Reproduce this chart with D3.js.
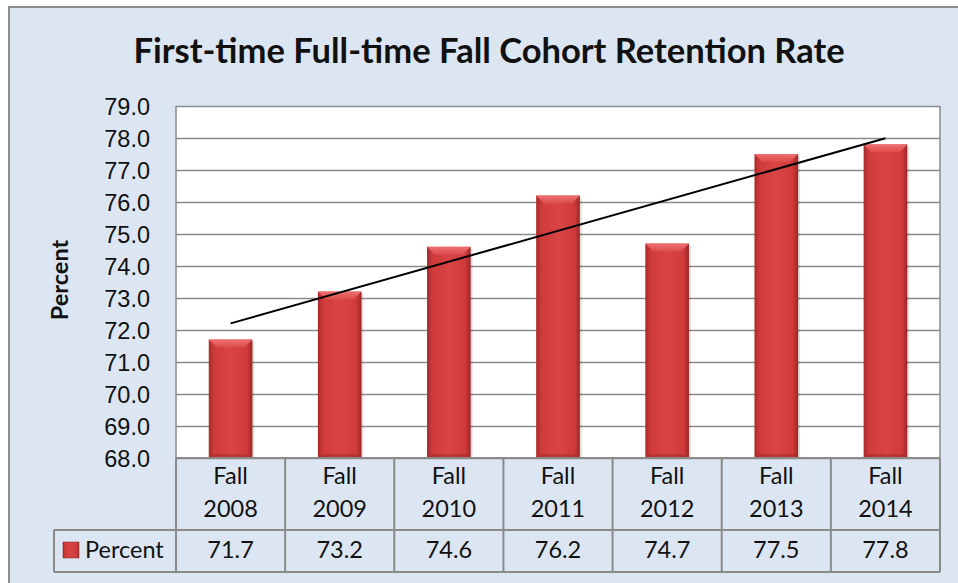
<!DOCTYPE html>
<html>
<head>
<meta charset="utf-8">
<script src="https://cdn.jsdelivr.net/npm/d3@7"></script>
<style>
  html, body { margin: 0; padding: 0; background: #ffffff; }
  svg { display: block; font-family: Lato, "Open Sans", sans-serif; }
</style>
</head>
<body>
<svg id="chart" width="958" height="583"></svg>
<script>
// --- data ---
const categories = ["Fall 2008", "Fall 2009", "Fall 2010", "Fall 2011", "Fall 2012", "Fall 2013", "Fall 2014"];
const percentValues = [71.7, 73.2, 74.6, 76.2, 74.7, 77.5, 77.8];
const yTicks = [68, 69, 70, 71, 72, 73, 74, 75, 76, 77, 78, 79];
const seriesName = "Percent";
const chartTitle = "First-time Full-time Fall Cohort Retention Rate";

const svg = d3.select("#chart");
const plot = { left: 176, right: 940, top: 106, bottom: 458 };
const table = { headerBottom: 530, rowBottom: 572, legendLeft: 54 };
const gridColor = "#8a8a8a";
const bodySize = 23.5;

// background of the chart area
svg.append("rect")
    .attr("x", 9).attr("y", 7)
    .attr("width", 960).attr("height", 590)
    .attr("fill", "#dce6f2")
    .attr("stroke", "#8c8c8c")
    .attr("stroke-width", 2);

// gradients for the bevelled bars
const defs = svg.append("defs");
const grad = defs.append("linearGradient").attr("id", "barGrad")
    .attr("x1", "0%").attr("x2", "100%").attr("y1", "0%").attr("y2", "0%");
grad.append("stop").attr("offset", "0%").attr("stop-color", "#a82a2a");
grad.append("stop").attr("offset", "12%").attr("stop-color", "#cf3a3a");
grad.append("stop").attr("offset", "50%").attr("stop-color", "#d94444");
grad.append("stop").attr("offset", "88%").attr("stop-color", "#cf3a3a");
grad.append("stop").attr("offset", "100%").attr("stop-color", "#9c2626");

const topGrad = defs.append("linearGradient").attr("id", "topGrad")
    .attr("x1", "0%").attr("x2", "0%").attr("y1", "0%").attr("y2", "100%");
topGrad.append("stop").attr("offset", "0%").attr("stop-color", "#ee7070");
topGrad.append("stop").attr("offset", "100%").attr("stop-color", "#dc4a4a");

// scales
const x = d3.scaleBand()
    .domain(categories)
    .range([plot.left, plot.right])
    .paddingInner(0.6)
    .paddingOuter(0.3);

const y = d3.scaleLinear()
    .domain([d3.min(yTicks), d3.max(yTicks)])
    .range([plot.bottom, plot.top]);

// plot area
svg.append("rect")
    .attr("x", plot.left).attr("y", plot.top)
    .attr("width", plot.right - plot.left)
    .attr("height", plot.bottom - plot.top)
    .attr("fill", "#ffffff");

// gridlines + y labels via axis
const yAxis = d3.axisLeft(y)
    .tickValues(yTicks)
    .tickSize(-(plot.right - plot.left))
    .tickPadding(26)
    .tickFormat(d3.format(".1f"));

const gy = svg.append("g")
    .attr("transform", `translate(${plot.left},0)`)
    .call(yAxis);
gy.select(".domain").remove();
gy.selectAll(".tick line")
    .attr("stroke", gridColor)
    .attr("stroke-width", 1.5);
gy.selectAll(".tick text")
    .attr("fill", "#111")
    .attr("font-size", bodySize)
    .attr("dy", "0.35em");

// left and right plot borders
svg.append("line")
    .attr("x1", plot.left).attr("x2", plot.left)
    .attr("y1", plot.top).attr("y2", table.headerBottom)
    .attr("stroke", gridColor).attr("stroke-width", 1.5);
svg.append("line")
    .attr("x1", plot.right).attr("x2", plot.right)
    .attr("y1", plot.top).attr("y2", plot.bottom)
    .attr("stroke", gridColor).attr("stroke-width", 1.5);

// bars
const bars = svg.selectAll(".bar")
    .data(percentValues)
    .enter()
    .append("g")
    .attr("class", "bar");

bars.append("rect")
    .attr("x", (d, i) => x(categories[i]) + 2)
    .attr("y", d => y(d) + 2)
    .attr("width", x.bandwidth())
    .attr("height", d => plot.bottom - y(d) - 2)
    .attr("fill", "#000")
    .attr("opacity", 0.12);

bars.append("rect")
    .attr("x", (d, i) => x(categories[i]))
    .attr("y", d => y(d))
    .attr("width", x.bandwidth())
    .attr("height", d => plot.bottom - y(d))
    .attr("fill", "url(#barGrad)");

// top bevel
bars.append("path")
    .attr("d", (d, i) => {
        const x0 = x(categories[i]), x1 = x0 + x.bandwidth(), t = y(d), b = 8;
        return `M${x0},${t}L${x1},${t}L${x1 - b},${t + b}L${x0 + b},${t + b}Z`;
    })
    .attr("fill", "url(#topGrad)");

// bottom bevel
bars.append("path")
    .attr("d", (d, i) => {
        const x0 = x(categories[i]), x1 = x0 + x.bandwidth(), bt = plot.bottom, b = 4;
        return `M${x0},${bt}L${x1},${bt}L${x1 - b},${bt - b}L${x0 + b},${bt - b}Z`;
    })
    .attr("fill", "#a52a2a")
    .attr("opacity", 0.5);

// linear trendline from the series
const xs = percentValues.map((d, i) => i + 1);
const mx = d3.mean(xs), my = d3.mean(percentValues);
const slope = d3.sum(xs, (v, i) => (v - mx) * (percentValues[i] - my)) / d3.sum(xs, v => (v - mx) ** 2);
const intercept = my - slope * mx;
const trend = [0, categories.length - 1].map(i => ({
    cx: x(categories[i]) + x.bandwidth() / 2,
    v: intercept + slope * (i + 1)
}));
svg.append("path")
    .datum(trend)
    .attr("fill", "none")
    .attr("stroke", "#000")
    .attr("stroke-width", 2)
    .attr("d", d3.line().x(d => d.cx).y(d => y(d.v)));

// title and axis title
svg.append("text")
    .attr("x", 489).attr("y", 63)
    .attr("text-anchor", "middle")
    .attr("font-size", 34.5)
    .attr("font-weight", "bold")
    .attr("fill", "#111")
    .text(chartTitle);

svg.append("text")
    .attr("transform", `translate(68,${(plot.top + plot.bottom) / 2 - 2}) rotate(-90)`)
    .attr("text-anchor", "middle")
    .attr("font-size", bodySize)
    .attr("font-weight", "bold")
    .attr("fill", "#111")
    .text(seriesName);

// --- data table below the plot ---
const tableG = svg.append("g");
const cols = x.domain().map(c => ({ c, x0: x(c) - x.step() * x.paddingInner() / 2 }));

// horizontal lines
[[plot.left, plot.bottom], [table.legendLeft, table.headerBottom], [table.legendLeft, table.rowBottom]]
    .forEach(([x0, yy]) => {
        tableG.append("line")
            .attr("x1", x0).attr("x2", plot.right)
            .attr("y1", yy).attr("y2", yy)
            .attr("stroke", gridColor).attr("stroke-width", 2);
    });

// vertical lines
const vx = cols.map(d => d.x0).concat([plot.right]);
vx.forEach(v => {
    tableG.append("line")
        .attr("x1", v).attr("x2", v)
        .attr("y1", plot.bottom).attr("y2", table.rowBottom)
        .attr("stroke", gridColor).attr("stroke-width", 2);
});
tableG.append("line")
    .attr("x1", table.legendLeft).attr("x2", table.legendLeft)
    .attr("y1", table.headerBottom).attr("y2", table.rowBottom)
    .attr("stroke", gridColor).attr("stroke-width", 2);

// category labels (two lines)
cols.forEach(d => {
    const cx = x(d.c) + x.bandwidth() / 2;
    const parts = d.c.split(" ");
    const t = tableG.append("text")
        .attr("text-anchor", "middle")
        .attr("font-size", bodySize)
        .attr("fill", "#111");
    parts.forEach((p, k) => {
        t.append("tspan").attr("x", cx).attr("y", 484 + k * 33).text(p);
    });
});

// value row
tableG.selectAll(".val")
    .data(percentValues)
    .enter()
    .append("text")
    .attr("class", "val")
    .attr("x", (d, i) => x(categories[i]) + x.bandwidth() / 2)
    .attr("y", 558)
    .attr("text-anchor", "middle")
    .attr("font-size", bodySize)
    .attr("fill", "#111")
    .text(d => d3.format(".1f")(d));

// legend key
tableG.append("rect")
    .attr("x", 63).attr("y", 542)
    .attr("width", 16).attr("height", 16)
    .attr("fill", "url(#barGrad)")
    .attr("stroke", "#8e2020").attr("stroke-width", 0.5);
tableG.append("text")
    .attr("x", 85).attr("y", 558)
    .attr("font-size", bodySize)
    .attr("fill", "#111")
    .text(seriesName);
</script>
</body>
</html>
